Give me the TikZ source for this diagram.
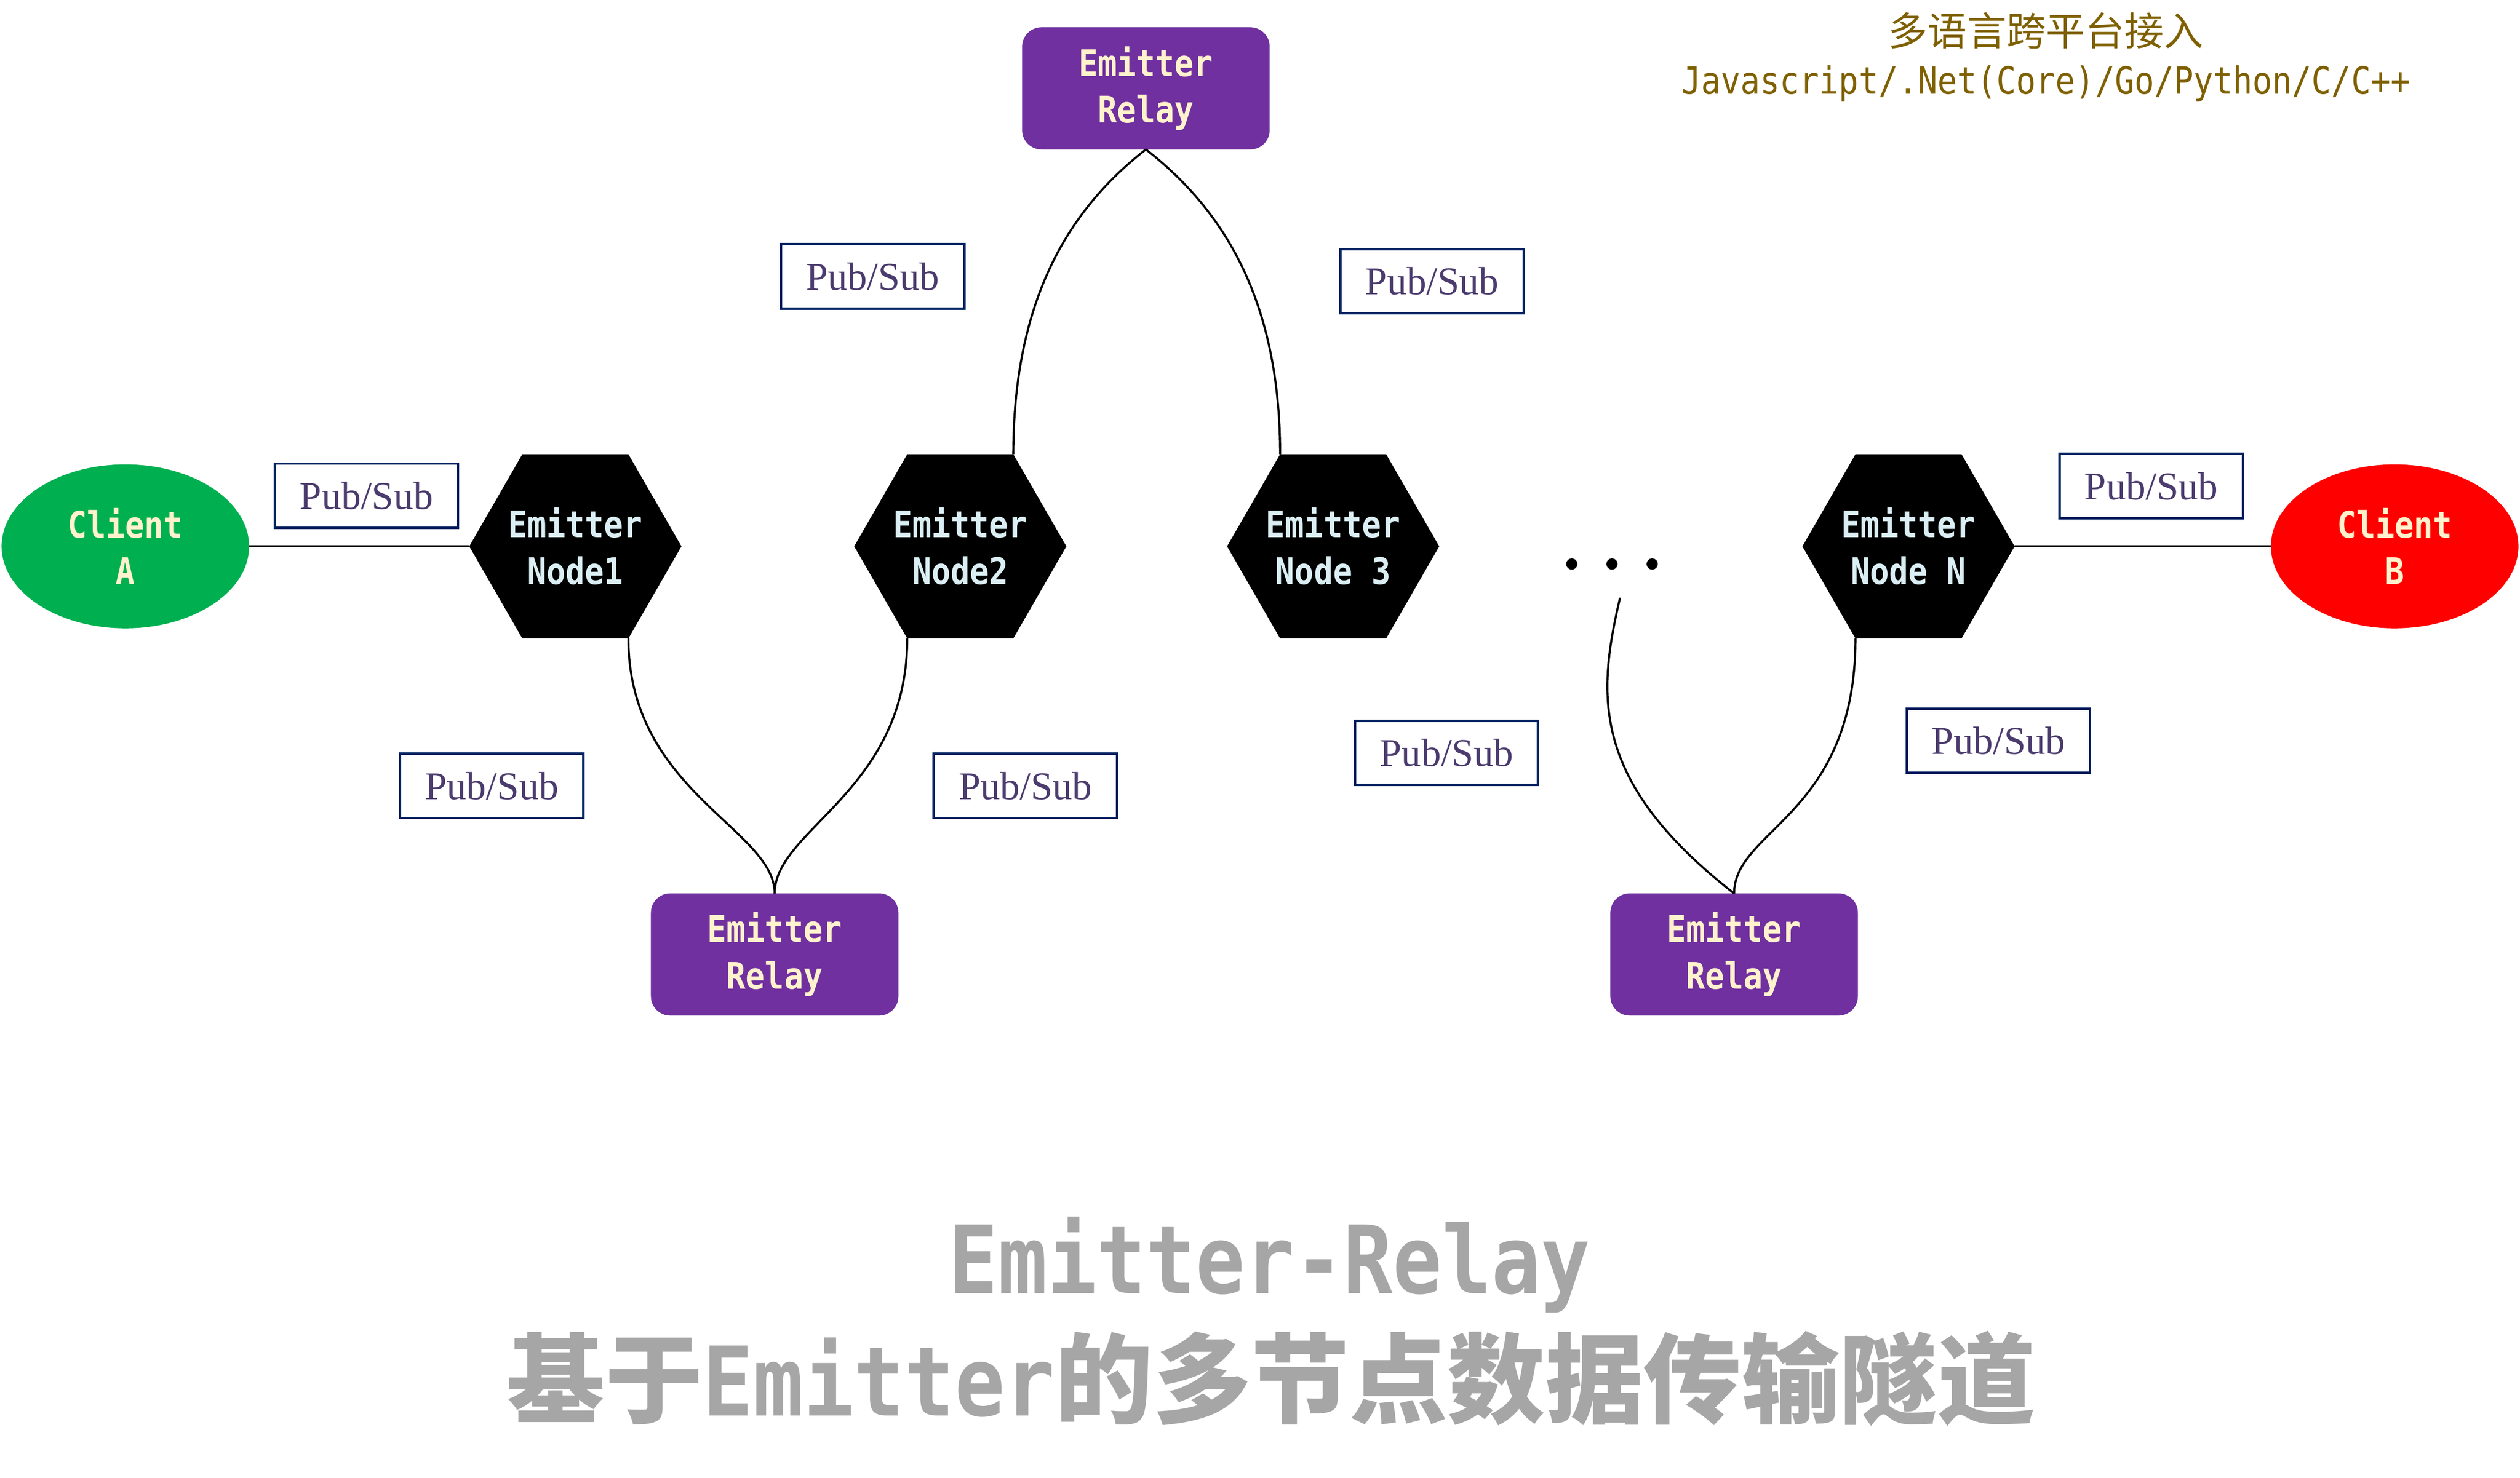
\documentclass[tikz,border=0pt]{standalone}
\usepackage{fontspec}
\setmainfont{Liberation Serif}
\newfontfamily\monofont[FakeStretch=0.87]{DejaVu Sans Mono}
\newfontfamily\cjkfont{Noto Sans CJK SC}
\usetikzlibrary{shapes.geometric}
\definecolor{cgreen}{HTML}{00B050}
\definecolor{cred}{HTML}{FF0000}
\definecolor{cpurple}{HTML}{7030A0}
\definecolor{ctextyellow}{HTML}{FFF2CC}
\definecolor{chextext}{HTML}{DAEEF3}
\definecolor{cnavy}{HTML}{002060}
\definecolor{cpubtext}{HTML}{4B3B6E}
\definecolor{colive}{HTML}{7F6000}
\definecolor{cgraytitle}{HTML}{A6A6A6}
\begin{document}
\begin{tikzpicture}[x=1pt,y=-1pt,
  hexnode/.style={rectangle, minimum width=132pt, minimum height=114.6pt,
    inner sep=0pt, outer sep=0pt, fill=white, text=chextext, align=center,
    font=\monofont\bfseries\fontsize{22.8}{29}\selectfont,
    path picture={\fill[black] (path picture bounding box.west)
      -- ([xshift=33pt]path picture bounding box.north west)
      -- ([xshift=-33pt]path picture bounding box.north east)
      -- (path picture bounding box.east)
      -- ([xshift=-33pt]path picture bounding box.south east)
      -- ([xshift=33pt]path picture bounding box.south west) -- cycle;}},
  clientnode/.style={ellipse, minimum width=154pt, minimum height=102pt,
    inner sep=0pt, outer sep=0pt, text=ctextyellow, align=center,
    font=\monofont\bfseries\fontsize{22.8}{29}\selectfont},
  relaynode/.style={rectangle, rounded corners=12pt, minimum width=154pt,
    minimum height=76pt, inner sep=0pt, outer sep=0pt, fill=cpurple,
    text=ctextyellow, align=center,
    font=\monofont\bfseries\fontsize{22.8}{29}\selectfont},
  pubsub/.style={rectangle, draw=cnavy, line width=1.5pt, minimum width=114pt,
    minimum height=40pt, inner sep=0pt, text=cpubtext,
    font=\fontsize{24.5}{28}\selectfont},
  link/.style={draw=black, line width=1.3pt},
  dotmark/.style={circle, fill=black, minimum size=7pt, inner sep=0pt}
]
\useasboundingbox (0,0) rectangle (1568,919.5);

% main nodes
\node[clientnode, fill=cgreen] (ca) at (78,340) {Client\\A};
\node[clientnode, fill=cred] (cb) at (1490,340) {Client\\B};
\node[hexnode] (n1) at (358,340) {Emitter\\Node1};
\node[hexnode] (n2) at (597.5,340) {Emitter\\Node2};
\node[hexnode] (n3) at (829.5,340) {Emitter\\Node 3};
\node[hexnode] (nN) at (1187.5,340) {Emitter\\Node N};
\node[relaynode] (rt) at (713,55) {Emitter\\Relay};
\node[relaynode] (rb1) at (482,594) {Emitter\\Relay};
\node[relaynode] (rb2) at (1079,594) {Emitter\\Relay};

% dots
\node[dotmark] (d1) at (978,351) {};
\node[dotmark] (d2) at (1003,351) {};
\node[dotmark] (d3) at (1028,351) {};
\coordinate (dend) at (1008,372);

% hexagon corners used by the connectors
\coordinate (n2tr) at ([xshift=33pt]n2.north);
\coordinate (n3tl) at ([xshift=-33pt]n3.north);
\coordinate (n1br) at ([xshift=33pt]n1.south);
\coordinate (n2bl) at ([xshift=-33pt]n2.south);
\coordinate (nNbl) at ([xshift=-33pt]nN.south);

% pub/sub labels
\node[pubsub] (p1) at (228,308.5) {Pub/Sub};
\node[pubsub] (p2) at (543,172) {Pub/Sub};
\node[pubsub] (p3) at (891,175) {Pub/Sub};
\node[pubsub] (p4) at (306,489) {Pub/Sub};
\node[pubsub] (p5) at (638,489) {Pub/Sub};
\node[pubsub] (p6) at (900,468.5) {Pub/Sub};
\node[pubsub] (p7) at (1243.5,461) {Pub/Sub};
\node[pubsub] (p8) at (1338.5,302.5) {Pub/Sub};

% connectors
\draw[link] (ca.east) -- (n1.west);
\draw[link] (nN.east) -- (cb.west);

\draw[link] (rt.south) .. controls ++(-45,35) and ++(0,-100) .. (n2tr);
\draw[link] (rt.south) .. controls ++(45,35) and ++(0,-100) .. (n3tl);

\draw[link] (n1br) .. controls ++(0,95) and ++(0,-40) .. (rb1.north);
\draw[link] (n2bl) .. controls ++(0,95) and ++(0,-40) .. (rb1.north);

\draw[link] (dend) .. controls ++(-14,60) and ++(-90,-70) .. (rb2.north);
\draw[link] (nNbl) .. controls ++(0,110) and ++(0,-40) .. (rb2.north);

% top-right note
\node[text=colive, font=\cjkfont\fontsize{24.5}{28}\selectfont] (note1) at (1273,19) {多语言跨平台接入};
\node[text=colive, font=\monofont\fontsize{23.4}{26}\selectfont] (note2) at (1273,52) {Javascript/.Net(Core)/Go/Python/C/C++};

% title
\node[text=cgraytitle, font=\monofont\bfseries\fontsize{58.6}{66}\selectfont] (t1) at (790,787) {Emitter-Relay};
\node[text=cgraytitle, font=\cjkfont\bfseries\fontsize{61}{70}\selectfont] (t2) at (791,858) {基于{\monofont\fontsize{59.8}{70}\selectfont Emitter}的多节点数据传输隧道};
\end{tikzpicture}
\end{document}
